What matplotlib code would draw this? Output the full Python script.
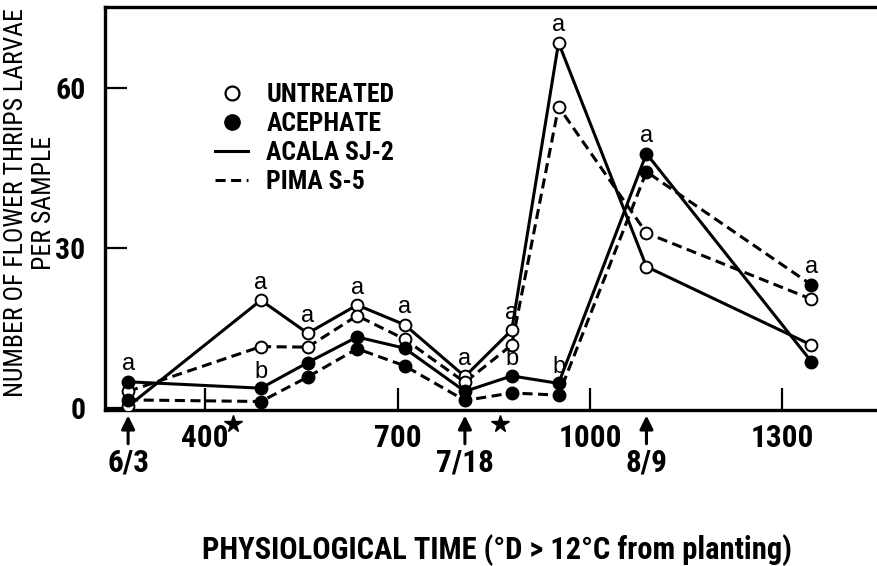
import matplotlib
matplotlib.use('Agg')
import matplotlib.pyplot as plt
from matplotlib import font_manager
from matplotlib.lines import Line2D

# sampling times (degree-days from planting) and larvae per sample
x = [280, 487, 560, 637, 711, 805, 878, 951, 1088, 1345]
acala_untreated = [0.3, 20.2, 14.0, 19.3, 15.6, 5.9, 14.6, 68.5, 26.5, 11.8]
pima_untreated = [3.1, 11.5, 11.4, 17.3, 12.9, 4.8, 11.8, 56.5, 32.8, 20.4]
acala_acephate = [4.9, 3.7, 8.5, 13.3, 11.2, 3.1, 6.0, 4.6, 47.7, 8.7]
pima_acephate = [1.5, 1.2, 5.8, 11.1, 7.9, 1.4, 2.8, 2.4, 44.3, 23.1]

b_idx = [1, 6, 7]          # samples with a 'b' over acala acephate
date_x = [280, 805, 1088]
date_labels = ['6/3', '7/18', '8/9']
star_x = [444, 860]
xticks = [400, 700, 1000, 1300]
yticks = [0, 30, 60]

names = {f.name for f in font_manager.fontManager.ttflist}
narrow = 'Liberation Sans'
for n in ['Liberation Sans Narrow', 'DejaVu Sans Condensed', 'Roboto Condensed', 'Open Sans Condensed']:
    if n in names:
        narrow = n
        break
plt.rcParams['font.family'] = ['Liberation Sans', 'DejaVu Sans']

fig = plt.figure(figsize=(8.78, 5.66), dpi=100)
ax = fig.add_axes([0.1196, 0.2765, 0.879, 0.7111])

dash = (3.3, 1.8)
lw = 2.2
ms = 8.5
ax.plot(x, acala_untreated, color='k', lw=lw, zorder=2)
ax.plot(x, pima_untreated, color='k', lw=lw, dashes=dash, zorder=2)
ax.plot(x, acala_acephate, color='k', lw=lw, zorder=2)
ax.plot(x, pima_acephate, color='k', lw=lw, dashes=dash, zorder=2)
for s in [acala_untreated, pima_untreated]:
    ax.plot(x, s, ls='none', marker='o', ms=ms, mfc='white', mec='k', mew=1.4, zorder=3)
for s in [acala_acephate, pima_acephate]:
    ax.plot(x, s, ls='none', marker='o', ms=ms + 0.5, mfc='k', mec='k', zorder=4)

# significance letters
for i in range(len(x)):
    top = max(acala_untreated[i], pima_untreated[i], acala_acephate[i], pima_acephate[i])
    ax.annotate('a', (x[i], top), xytext=(0, 12.5), textcoords='offset points',
                ha='center', va='center', fontsize=17, zorder=5)
for i in b_idx:
    ax.annotate('b', (x[i], acala_acephate[i]), xytext=(0, 12), textcoords='offset points',
                ha='center', va='center', fontsize=17, zorder=5)

ax.set_xlim(244, 1447)
ax.set_ylim(-0.3, 75.2)
ax.set_xticks(xticks)
ax.set_yticks(yticks)
ax.tick_params(direction='in', length=16, width=1.6)
ax.tick_params(axis='y', pad=14)
ax.tick_params(axis='x', pad=10)
for lab in ax.get_xticklabels():
    lab.set_fontfamily(narrow)
    lab.set_fontweight('bold')
    lab.set_fontsize(22.5)
for lab in ax.get_yticklabels():
    lab.set_fontfamily(narrow)
    lab.set_fontweight('bold')
    lab.set_fontsize(21.5)
for sp in ['left', 'bottom', 'top']:
    ax.spines[sp].set_linewidth(2.4)
ax.spines['right'].set_visible(False)

# dates below the axis
xt = ax.get_xaxis_transform()
for dx, dl in zip(date_x, date_labels):
    ax.annotate('', xy=(dx, -0.008), xytext=(dx, -0.092), xycoords=xt,
                arrowprops=dict(arrowstyle='-|>', lw=2.2, color='k', mutation_scale=20),
                annotation_clip=False)
    ax.text(dx, -0.155, dl, transform=xt, ha='center', va='baseline',
            fontfamily=narrow, fontweight='bold', fontsize=22.5)
ax.plot(star_x, [-0.036] * len(star_x), transform=xt, ls='none', marker='*',
        ms=13, color='k', clip_on=False)

handles = [
    Line2D([], [], ls='none', marker='o', ms=10, mfc='white', mec='k', mew=1.6),
    Line2D([], [], ls='none', marker='o', ms=11, mfc='k', mec='k'),
    Line2D([], [], color='k', lw=lw),
    Line2D([], [], color='k', lw=lw, dashes=dash),
]
leg = ax.legend(handles, ['UNTREATED', 'ACEPHATE', 'ACALA SJ-2', 'PIMA S-5'],
                loc='upper left', bbox_to_anchor=(0.1425, 0.812), frameon=False,
                borderpad=0, borderaxespad=0, handlelength=1.3, handletextpad=0.7,
                labelspacing=0.2, prop={'family': narrow, 'weight': 'bold', 'size': 18.5})

fig.text(30 / 878, 1 - 203 / 566, 'NUMBER OF FLOWER THRIPS LARVAE\nPER SAMPLE',
         rotation=90, ha='center', va='center', multialignment='center',
         fontfamily=narrow, fontsize=18.5, linespacing=1.25)
fig.text(497 / 878, 1 - 559 / 566, 'PHYSIOLOGICAL TIME (°D > 12°C from planting)',
         ha='center', va='baseline', fontfamily=narrow, fontweight='bold', fontsize=22)

fig.savefig('out.png', dpi=100)
